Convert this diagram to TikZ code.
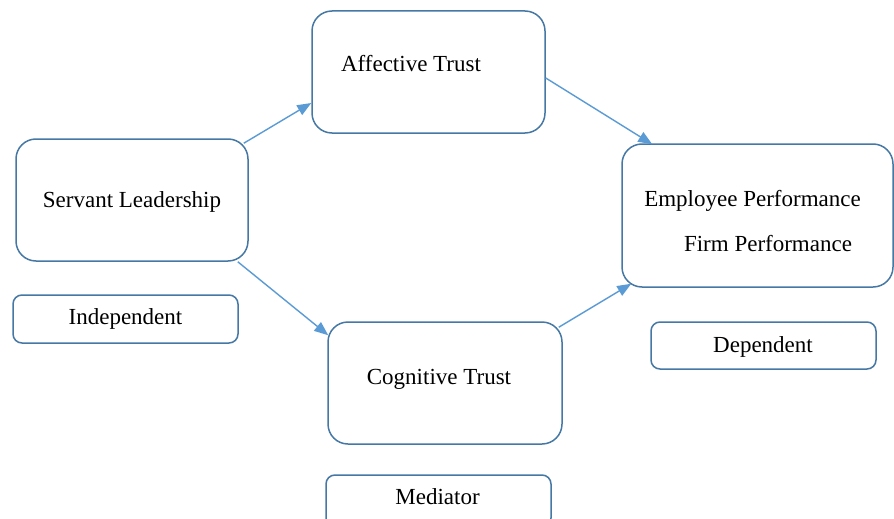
\documentclass[tikz,border=0pt]{standalone}
\usepackage{fontspec}
\setmainfont{Liberation Serif}
\usetikzlibrary{arrows.meta}
\definecolor{boxblue}{RGB}{70,120,165}
\definecolor{arrowblue}{RGB}{91,155,213}
\tikzset{
  x=1pt, y=-1pt,
  bigbox/.style={draw=boxblue, line width=1.5pt, rounded corners=20pt, fill=white, inner sep=0pt},
  smallbox/.style={draw=boxblue, line width=1.5pt, rounded corners=9pt, fill=white, inner sep=0pt},
  txt/.style={anchor=base, inner sep=0pt, font=\fontsize{23}{27}\selectfont},
  link/.style={draw=arrowblue, line width=1.4pt, -{Triangle[length=14pt,width=11pt]}}
}
\begin{document}
\begin{tikzpicture}
\useasboundingbox (0,0) rectangle (894,519);
\clip (0,0) rectangle (894,519);
\fill[white] (0,0) rectangle (894,519);
% main boxes
\node[bigbox, minimum width=233pt, minimum height=122pt] (at) at (428.5,72) {};
\node[bigbox, minimum width=232pt, minimum height=122pt] (sl) at (132,200) {};
\node[bigbox, minimum width=271pt, minimum height=143pt] (ep) at (757.5,215.5) {};
\node[bigbox, minimum width=234pt, minimum height=122pt] (ct) at (445,383) {};
% category boxes
\node[smallbox, minimum width=225pt, minimum height=48pt] (ind) at (125.5,319) {};
\node[smallbox, minimum width=225pt, minimum height=47pt] (dep) at (763.5,345.5) {};
\node[smallbox, minimum width=225pt, minimum height=52pt] (med) at (438.5,501) {};
% texts
\node[txt] (atT) at (411,72) {Affective Trust};
\node[txt] (slT) at (132,207) {Servant Leadership};
\node[txt] (epT) at (752.5,206) {Employee Performance};
\node[txt] (fpT) at (768,251) {Firm Performance};
\node[txt] (ctT) at (439,384) {Cognitive Trust};
\node[txt] (indT) at (125.5,324) {Independent};
\node[txt] (depT) at (763,352) {Dependent};
\node[txt] (medT) at (437.5,504) {Mediator};
% connectors
\draw[link] ([xshift=-5pt,yshift=-5pt]sl.north east) -- ([yshift=-31pt]at.west);
\draw[link] ([yshift=-6pt]at.east) -- ([xshift=31pt,yshift=-1pt]ep.north west);
\draw[link] ([xshift=-11pt]sl.south east) -- ([xshift=1pt,yshift=-14pt]ct.north west);
\draw[link] ([xshift=-4pt,yshift=-6pt]ct.north east) -- ([xshift=10pt,yshift=4pt]ep.south west);
\end{tikzpicture}
\end{document}
